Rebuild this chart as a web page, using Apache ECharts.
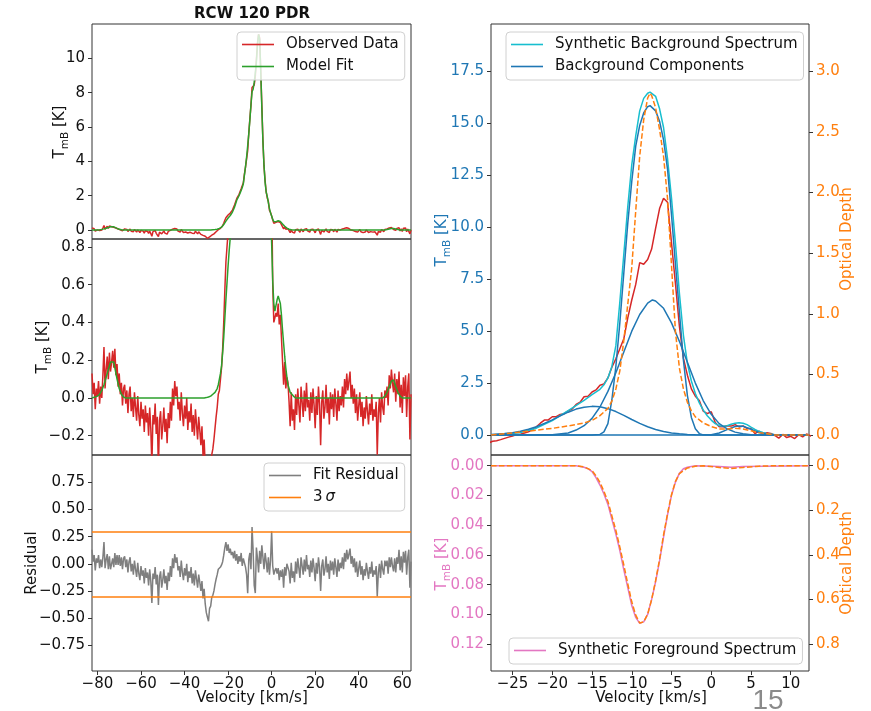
<!DOCTYPE html>
<html>
<head>
<meta charset="utf-8">
<script src="https://cdn.jsdelivr.net/npm/echarts@6/dist/echarts.min.js"></script>
<style>
html, body { margin: 0; padding: 0; background: #fff; }
#chart { width: 871px; height: 711px; }
</style>
</head>
<body>
<div id="chart"></div>
<script>
// ---- Spectral channels (km/s): first channel and channel width ----
const V0 = -82.5;
const DV = 0.5;

// Observed spectrum, T_mB [K], one value per channel
const observedT = [
  0.13, 0.02, 0.08, -0.06, 0.05, 0.01, 0.09, -0.03, 0.06, 0.0,
  0.12, 0.27, 0.05, 0.15, 0.22, 0.1, 0.24, 0.14, 0.19, 0.25,
  0.16, 0.26, 0.12, 0.18, 0.06, 0.13, 0.02, 0.08, -0.04, 0.05,
  0.07, -0.03, 0.04, -0.08, 0.02, 0.06, -0.07, 0.0, -0.1, 0.03,
  -0.05, -0.12, 0.01, -0.09, -0.15, -0.02, -0.11, -0.06, -0.18, -0.04,
  -0.13, -0.08, -0.2, -0.05, -0.16, -0.36, -0.09, -0.14, -0.03, -0.19,
  -0.1, -0.38, -0.12, -0.07, -0.22, -0.15, -0.05, -0.18, -0.11, -0.24,
  -0.08, -0.16, -0.02, -0.12, 0.05, -0.04, 0.09, 0.01, 0.06, -0.06,
  -0.02, -0.12, 0.03, -0.08, -0.15, -0.04, -0.11, 0.0, -0.17, -0.07,
  -0.13, -0.03, -0.18, -0.09, -0.2, -0.06, -0.14, -0.22, -0.1, -0.17,
  -0.25, -0.15, -0.31, -0.22, -0.36, -0.44, -0.48, -0.52, -0.4, -0.38,
  -0.3, -0.27, -0.22, -0.16, -0.1, -0.05, 0.02, 0.04, 0.1, 0.16,
  0.26, 0.4, 0.57, 0.72, 0.73, 0.88, 0.88, 0.99, 1.03, 1.16,
  1.25, 1.47, 1.58, 1.84, 1.87, 2.07, 2.17, 2.4, 2.46, 2.75,
  3.26, 3.67, 4.15, 4.63, 5.64, 6.5, 7.25, 8.3, 8.22, 8.45,
  8.95, 9.95, 10.9, 11.4, 11.2, 9.25, 7.27, 5.21, 3.7, 2.88,
  2.22, 1.87, 1.66, 1.15, 1.03, 1.12, 0.6, 0.4, 0.4, 0.45,
  0.43, 0.5, 0.39, 0.44, 0.32, 0.31, 0.07, 0.19, 0.05, 0.11,
  0.08, -0.02, -0.15, 0.03, -0.12, -0.06, -0.17, 0.02, -0.09, 0.05,
  -0.04, -0.13, 0.06, -0.02, -0.1, 0.04, -0.07, 0.08, -0.05, -0.01,
  -0.12, 0.03, -0.08, 0.05, -0.04, -0.16, 0.01, -0.09, 0.06, -0.03,
  -0.25, -0.02, 0.04, -0.11, -0.05, 0.07, -0.08, 0.0, -0.14, 0.03,
  -0.06, 0.02, -0.1, 0.05, -0.03, -0.12, 0.04, -0.07, 0.01, -0.04,
  0.06, -0.05, 0.1, 0.02, 0.13, 0.04, 0.09, 0.14, 0.0, 0.07,
  -0.03, 0.05, -0.08, 0.02, -0.12, -0.04, 0.03, -0.1, -0.02, -0.15,
  -0.05, -0.11, 0.01, -0.07, -0.14, -0.03, -0.09, 0.02, -0.12, -0.06,
  -0.1, -0.02, -0.3, -0.08, 0.0, -0.13, 0.03, -0.05, -0.09, 0.04,
  0.0, 0.06, -0.04, 0.12, 0.05, 0.15, 0.08, 0.03, 0.13, -0.02,
  0.1, 0.02, 0.14, -0.05, 0.07, -0.08, 0.11, 0.01, 0.12, -0.1,
  0.06, 0.13, -0.22, 0.02
];

// Fit residual, one value per channel
const residualT = [
  0.13, 0.02, 0.08, -0.06, 0.05, 0.01, 0.08, -0.04, 0.04, -0.03,
  0.06, 0.2, -0.04, 0.04, 0.09, -0.05, 0.07, -0.05, 0.0, 0.05,
  -0.03, 0.1, -0.01, 0.08, -0.01, 0.08, -0.02, 0.06, -0.05, 0.05,
  0.07, -0.03, 0.04, -0.08, 0.02, 0.06, -0.07, 0.0, -0.1, 0.03,
  -0.05, -0.12, 0.01, -0.09, -0.15, -0.02, -0.11, -0.06, -0.18, -0.04,
  -0.13, -0.08, -0.2, -0.05, -0.16, -0.36, -0.09, -0.14, -0.03, -0.19,
  -0.1, -0.38, -0.12, -0.07, -0.22, -0.15, -0.05, -0.18, -0.11, -0.24,
  -0.08, -0.16, -0.02, -0.12, 0.05, -0.04, 0.09, 0.01, 0.06, -0.06,
  -0.02, -0.12, 0.03, -0.08, -0.15, -0.04, -0.11, 0.0, -0.17, -0.07,
  -0.13, -0.03, -0.18, -0.09, -0.2, -0.06, -0.14, -0.22, -0.1, -0.17,
  -0.25, -0.16, -0.32, -0.23, -0.37, -0.45, -0.49, -0.53, -0.41, -0.39,
  -0.31, -0.29, -0.25, -0.19, -0.14, -0.1, -0.05, -0.06, -0.03, -0.01,
  0.02, 0.08, 0.15, 0.2, 0.12, 0.18, 0.1, 0.14, 0.08, 0.11,
  0.05, 0.12, 0.03, 0.09, 0.0, 0.07, 0.02, 0.1, -0.02, 0.05,
  0.06, -0.03, -0.1, -0.27, 0.04, 0.1, -0.05, 0.34, 0.12, -0.2,
  -0.27, 0.15, 0.05, -0.08, 0.12, 0.0, 0.17, 0.06, -0.05, 0.1,
  0.02, -0.08, 0.06, -0.1, 0.03, 0.3, -0.02, -0.1, -0.06, -0.04,
  -0.09, -0.04, -0.15, -0.06, -0.12, -0.05, -0.22, -0.03, -0.11, 0.0,
  0.01, -0.07, -0.18, 0.01, -0.13, -0.07, -0.17, 0.02, -0.09, 0.05,
  -0.04, -0.13, 0.06, -0.02, -0.1, 0.04, -0.07, 0.08, -0.05, -0.01,
  -0.12, 0.03, -0.08, 0.05, -0.04, -0.16, 0.01, -0.09, 0.06, -0.03,
  -0.25, -0.02, 0.04, -0.11, -0.05, 0.07, -0.08, 0.0, -0.14, 0.03,
  -0.06, 0.02, -0.1, 0.05, -0.03, -0.12, 0.04, -0.07, 0.01, -0.04,
  0.06, -0.05, 0.1, 0.02, 0.13, 0.04, 0.09, 0.14, 0.0, 0.07,
  -0.03, 0.05, -0.08, 0.02, -0.12, -0.04, 0.03, -0.1, -0.02, -0.15,
  -0.05, -0.11, 0.01, -0.07, -0.14, -0.03, -0.09, 0.02, -0.12, -0.06,
  -0.1, -0.02, -0.3, -0.08, 0.0, -0.13, 0.03, -0.05, -0.1, 0.03,
  -0.02, 0.03, -0.09, 0.06, -0.03, 0.06, -0.02, -0.07, 0.05, -0.08,
  0.06, 0.0, 0.13, -0.06, 0.07, -0.08, 0.11, 0.01, 0.12, -0.1,
  0.06, 0.13, -0.22, 0.02
];

// Model fit (velocity, T_mB)
const modelVel = [
  -82.5, -80, -79, -78, -77, -76, -75, -74, -73.2, -72.5,
  -72, -71, -70, -69, -68, -67, -31, -30, -29, -28,
  -27, -26, -25, -24.5, -24, -23.5, -23, -22.5, -22, -21.5,
  -21, -20.5, -20, -19.5, -19, -18.5, -18, -17.5, -17, -16.5,
  -16, -15.5, -15, -14.5, -14, -13.5, -13, -12.5, -12, -11.5,
  -11, -10.5, -10, -9.5, -9, -8.5, -8, -7.5, -7, -6.5,
  -6, -5.5, -5, -4.5, -4, -3.5, -3, -2.5, -2, -1.5,
  -1, -0.5, 0, 0.5, 1, 1.5, 2, 2.5, 3, 3.5,
  4, 4.5, 5, 5.5, 6, 6.5, 7, 7.5, 8, 8.5,
  9, 10, 11, 51, 52, 53, 54, 55, 55.5, 56,
  57, 58, 59, 60, 64
];
const modelT = [
  0.0, 0.01, 0.02, 0.04, 0.07, 0.11, 0.15, 0.19, 0.2, 0.19,
  0.16, 0.1, 0.05, 0.02, 0.005, 0.0, 0.0, 0.002, 0.005, 0.01,
  0.02, 0.03, 0.05, 0.07, 0.1, 0.13, 0.17, 0.24, 0.32, 0.42,
  0.52, 0.61, 0.7, 0.78, 0.85, 0.95, 1.05, 1.2, 1.35, 1.55,
  1.75, 1.87, 2.0, 2.15, 2.3, 2.48, 2.7, 3.2, 3.7, 4.25,
  4.9, 5.6, 6.4, 7.3, 8.05, 8.2, 8.6, 9.15, 9.8, 10.8,
  11.4, 11.1, 9.25, 7.1, 5.15, 3.75, 2.78, 2.2, 1.95, 1.6,
  1.25, 1.0, 0.82, 0.62, 0.5, 0.46, 0.49, 0.52, 0.54, 0.54,
  0.5, 0.44, 0.36, 0.29, 0.22, 0.16, 0.11, 0.07, 0.05, 0.03,
  0.02, 0.01, 0.0, 0.0, 0.01, 0.03, 0.06, 0.09, 0.1, 0.095,
  0.06, 0.03, 0.01, 0.0, 0.0
];

// 3-sigma noise level of the residual
const SIGMA3 = 0.3;

// Synthetic background spectrum
const synthVel = [
  -27.7, -26, -24, -22, -20, -18, -16, -15, -14, -13.5,
  -13, -12.5, -12, -11.5, -11, -10.5, -10, -9.5, -9, -8.5,
  -8, -7.7, -7.5, -7, -6.5, -6, -5.5, -5, -4.5, -4,
  -3.5, -3, -2.5, -2, -1.5, -1, -0.5, 0, 0.5, 1,
  1.5, 2, 2.5, 3, 3.5, 4, 4.5, 5, 5.5, 6,
  6.5, 7, 8, 9, 12.3
];
const synthT = [
  0.0, 0.03, 0.12, 0.33, 0.7, 1.18, 1.67, 1.95, 2.2, 2.42,
  2.75, 3.3, 4.3, 6.4, 8.7, 11.0, 13.0, 14.4, 15.6, 16.2,
  16.45, 16.5, 16.45, 16.3, 15.7, 14.8, 13.3, 11.4, 9.2, 6.8,
  4.8, 3.45, 2.6, 2.0, 1.55, 1.2, 0.93, 0.72, 0.55, 0.45,
  0.42, 0.45, 0.52, 0.57, 0.59, 0.57, 0.5, 0.38, 0.27, 0.18,
  0.12, 0.07, 0.02, 0.0, 0.0
];

// Background components
const compAVel = [-27.7, -15, -14, -13.5, -13, -12.5, -12, -11.5, -11, -10.5, -10, -9.5, -9, -8.5, -8, -7.7, -7.5, -7, -6.5, -6, -5.5, -5, -4.5, -4, -3.5, -3, -2.5, -2, -1.5, -1, 0, 12.3];
const compAT = [0, 0, 0.03, 0.15, 0.55, 1.7, 3.3, 5.4, 7.8, 10.2, 12.2, 13.9, 14.9, 15.5, 15.8, 15.85, 15.82, 15.6, 15.1, 14.2, 12.8, 10.6, 8.2, 5.9, 3.6, 1.9, 0.85, 0.3, 0.07, 0.01, 0, 0];
const compBVel = [-27.7, -22, -20, -18, -17, -16, -15, -14, -13, -12, -11, -10, -9, -8, -7.4, -7, -6, -5, -4, -3, -2, -1, 0, 1, 2, 3, 4, 5, 6, 12.3];
const compBT = [0, 0.01, 0.02, 0.1, 0.24, 0.45, 0.8, 1.35, 2.1, 3.0, 4.0, 5.0, 5.8, 6.35, 6.5, 6.45, 6.1, 5.4, 4.5, 3.5, 2.5, 1.65, 1.0, 0.55, 0.3, 0.14, 0.06, 0.02, 0, 0];
const compCVel = [-27.7, -26, -25, -24, -23, -22, -21, -20, -19, -18, -17, -16, -15, -14, -13, -12, -11, -10, -9, -8, -7, -6, -5, -4, -3, -2, 0, 12.3];
const compCT = [0.03, 0.07, 0.11, 0.18, 0.28, 0.4, 0.56, 0.73, 0.92, 1.1, 1.25, 1.34, 1.38, 1.36, 1.27, 1.13, 0.95, 0.75, 0.56, 0.4, 0.27, 0.17, 0.1, 0.06, 0.03, 0.015, 0, 0];
const compDVel = [-27.7, -1, 0, 1, 2, 3, 3.5, 4, 5, 6, 7, 8, 9, 12.3];
const compDT = [0, 0, 0.02, 0.1, 0.26, 0.41, 0.44, 0.42, 0.28, 0.12, 0.04, 0.01, 0, 0];

// Optical depth of the background emission
const tauBgVel = [
  -27.7, -26, -24, -22, -20, -18, -16, -15, -14, -13,
  -12.5, -12, -11.5, -11, -10.5, -10, -9.5, -9, -8.5, -8,
  -7.7, -7.5, -7, -6.5, -6, -5.5, -5, -4.5, -4, -3.5,
  -3, -2.5, -2, -1, 0, 1, 2, 3, 4, 5,
  6, 7, 8, 12.3
];
const tauBg = [
  0.0, 0.01, 0.025, 0.04, 0.055, 0.075, 0.1, 0.12, 0.16, 0.22,
  0.28, 0.38, 0.53, 0.78, 1.08, 1.38, 1.85, 2.3, 2.6, 2.78,
  2.82, 2.8, 2.7, 2.52, 2.3, 1.95, 1.4, 0.85, 0.55, 0.38,
  0.27, 0.2, 0.15, 0.1, 0.07, 0.05, 0.05, 0.055, 0.05, 0.035,
  0.02, 0.01, 0.0, 0.0
];

// Synthetic foreground spectrum and its optical depth
const fgVel = [
  -27.7, -17, -16.5, -16, -15.5, -15, -14.5, -14, -13.5, -13,
  -12.5, -12, -11.5, -11, -10.5, -10, -9.5, -9, -8.5, -8,
  -7.5, -7, -6.5, -6, -5.5, -5, -4.5, -4, -3.5, -3,
  -2, 1, 2.5, 4, 12.3
];
const fgT = [
  0, 0, 0.0005, 0.001, 0.002, 0.004, 0.008, 0.013, 0.019, 0.026,
  0.036, 0.046, 0.057, 0.07, 0.082, 0.094, 0.102, 0.106, 0.105, 0.1,
  0.09, 0.078, 0.064, 0.048, 0.033, 0.02, 0.011, 0.005, 0.002, 0.001,
  0.0, 0.0005, 0.001, 0.0005, 0
];
const tauFgVel = [
  -27.7, -17, -16, -15, -14.5, -14, -13.5, -13, -12.5, -12,
  -11.5, -11, -10.5, -10, -9.5, -9, -8.5, -8, -7.5, -7,
  -6.5, -6, -5.5, -5, -4.5, -4, -3, -2, -1, 1,
  2.5, 4, 6, 8, 12.3
];
const tauFg = [
  0, 0, 0.005, 0.022, 0.045, 0.075, 0.115, 0.16, 0.225, 0.29,
  0.365, 0.445, 0.53, 0.61, 0.67, 0.705, 0.7, 0.665, 0.6, 0.515,
  0.42, 0.31, 0.215, 0.13, 0.07, 0.035, 0.01, 0.002, 0, 0.008,
  0.012, 0.008, 0.002, 0, 0
];

// Tick positions
const ticksVelWide = [-80, -60, -40, -20, 0, 20, 40, 60];
const ticksVelNarrow = [-25, -20, -15, -10, -5, 0, 5, 10];
const ticksTop = [0, 2, 4, 6, 8, 10];
const ticksMid = [-0.2, 0, 0.2, 0.4, 0.6, 0.8];
const ticksResid = [-0.75, -0.5, -0.25, 0, 0.25, 0.5, 0.75];
const ticksBgT = [0, 2.5, 5, 7.5, 10, 12.5, 15, 17.5];
const ticksBgTau = [0, 0.5, 1, 1.5, 2, 2.5, 3];
const ticksFgT = [0, 0.02, 0.04, 0.06, 0.08, 0.1, 0.12];
const ticksFgTau = [0, 0.2, 0.4, 0.6, 0.8];

// ---- Styling ----
const FONT = 'DejaVu Sans';
const INK = '#111';
const C = {
  red: '#d62728', green: '#2ca02c', gray: '#7f7f7f', orange: '#ff7f0e',
  cyan: '#17becf', blue: '#1f77b4', pink: '#e377c2'
};
const MINUS = '\u2212';
function fmt(v, d) {
  const s = Math.abs(v).toFixed(d);
  return (v < -1e-12 ? MINUS : '') + s;
}
const channelVel = observedT.map((_, i) => V0 + i * DV);

const GRIDS = [
  { left: 92, top: 24, width: 319, height: 215 },
  { left: 92, top: 239, width: 319, height: 216 },
  { left: 92, top: 455, width: 319, height: 216 },
  { left: 491, top: 24, width: 318, height: 431 },
  { left: 491, top: 455, width: 318, height: 216 }
];

function xAxis(gridIndex, min, max, ticks) {
  const labelled = !!ticks;
  return {
    type: 'value', gridIndex, min, max, position: 'bottom',
    axisLine: { show: false, onZero: false },
    splitLine: { show: false },
    axisTick: labelled ? { show: true, customValues: ticks, length: 4, lineStyle: { color: '#333' } } : { show: false },
    axisLabel: labelled ? {
      show: true, customValues: ticks, margin: 6,
      fontSize: 15, fontFamily: FONT, color: INK,
      formatter: v => fmt(v, 0)
    } : { show: false }
  };
}
function yAxis(gridIndex, position, min, max, ticks, dec, color, inverse) {
  return {
    type: 'value', gridIndex, position, min, max, inverse: !!inverse,
    axisLine: { show: false, onZero: false },
    splitLine: { show: false },
    axisTick: { show: true, customValues: ticks, length: 4, lineStyle: { color: '#333' } },
    axisLabel: {
      show: true, customValues: ticks, margin: 7,
      fontSize: 15, fontFamily: FONT, color: color || INK,
      formatter: v => fmt(v, dec)
    }
  };
}
function line(name, xs, ys, xi, yi, color, dashed) {
  return {
    type: 'line', name, xAxisIndex: xi, yAxisIndex: yi,
    data: xs.map((x, i) => [x, ys[i]]),
    showSymbol: false, symbol: 'none', smooth: false, clip: true,
    silent: true, animation: false,
    emphasis: { disabled: true },
    itemStyle: { color },
    lineStyle: { color, width: 1.5, type: dashed ? [5.5, 2.4] : 'solid' }
  };
}
function legend(names, left, top, extra) {
  return Object.assign({
    data: names, left, top, orient: 'vertical',
    icon: 'rect', itemWidth: 32, itemHeight: 1.6, itemGap: 5,
    padding: [4, 6, 5, 5],
    borderColor: '#d0d0d0', borderWidth: 1, borderRadius: 4,
    backgroundColor: 'rgba(255,255,255,0.8)',
    selectedMode: false,
    textStyle: { fontSize: 15, fontFamily: FONT, color: INK, lineHeight: 17, padding: [0, 0, 0, 7] }
  }, extra || {});
}
function tmbLabel(x, y, color) {
  return {
    type: 'text', x, y, rotation: Math.PI / 2, silent: true,
    style: {
      text: '{m|T}{s|mB}{m| [K]}',
      align: 'center', verticalAlign: 'middle',
      textAlign: 'center', textVerticalAlign: 'middle',
      rich: {
        m: { fontSize: 15, fontFamily: FONT, fill: color, color: color, lineHeight: 22 },
        s: { fontSize: 10.5, fontFamily: FONT, fill: color, color: color, verticalAlign: 'bottom' }
      }
    }
  };
}
function plainLabel(text, x, y, color, rotate, font) {
  return {
    type: 'text', x, y, rotation: rotate ? Math.PI / 2 : 0, silent: true,
    style: {
      text, fill: color, font: font || ('15px ' + FONT),
      align: 'center', verticalAlign: 'middle',
      textAlign: 'center', textVerticalAlign: 'middle'
    }
  };
}

const option = {
  animation: false,
  backgroundColor: '#fff',
  grid: GRIDS.map(g => Object.assign({ show: true, borderColor: '#333', borderWidth: 1, backgroundColor: 'transparent', containLabel: false }, g)),
  xAxis: [
    xAxis(0, -82.5, 64),
    xAxis(1, -82.5, 64),
    xAxis(2, -82.5, 64, ticksVelWide),
    xAxis(3, -27.71, 12.3),
    xAxis(4, -27.71, 12.3, ticksVelNarrow)
  ],
  yAxis: [
    yAxis(0, 'left', -0.52, 12.0, ticksTop, 0),
    yAxis(1, 'left', -0.302, 0.842, ticksMid, 1),
    yAxis(2, 'left', -0.988, 1.003, ticksResid, 2),
    yAxis(3, 'left', -0.96, 19.78, ticksBgT, 1, C.blue),
    yAxis(3, 'right', -0.1646, 3.3905, ticksBgTau, 1, C.orange),
    yAxis(4, 'left', -0.0072, 0.138, ticksFgT, 2, C.pink, true),
    yAxis(4, 'right', -0.048, 0.92, ticksFgTau, 1, C.orange, true)
  ],
  legend: [
    legend(['Observed Data', 'Model Fit'], 237, 32),
    legend(['Synthetic Background Spectrum', 'Background Components'], 506, 32),
    legend(['Fit Residual', '3σ'], 264, 463, {
      formatter: n => n === '3σ' ? '3\u2009{it|σ}' : n,
      textStyle: {
        fontSize: 15, fontFamily: FONT, color: INK, lineHeight: 17, padding: [0, 0, 0, 7],
        rich: { it: { fontSize: 15, fontFamily: FONT, fontStyle: 'italic', color: INK, lineHeight: 17 } }
      }
    }),
    legend(['Synthetic Foreground Spectrum'], 509, 638)
  ],
  series: [
    // Full-scale spectrum with model
    line('Observed Data', channelVel, observedT, 0, 0, C.red),
    line('Model Fit', modelVel, modelT, 0, 0, C.green),
    // Zoom on the baseline
    line('Observed Data', channelVel, observedT, 1, 1, C.red),
    line('Model Fit', modelVel, modelT, 1, 1, C.green),
    // Residual and 3-sigma levels
    line('Fit Residual', channelVel, residualT, 2, 2, C.gray),
    {
      type: 'line', name: '3σ', xAxisIndex: 2, yAxisIndex: 2, data: [],
      itemStyle: { color: C.orange }, lineStyle: { color: C.orange, width: 1.5 },
      animation: false, silent: true,
      markLine: {
        silent: true, animation: false, symbol: ['none', 'none'],
        label: { show: false },
        lineStyle: { color: C.orange, width: 1.5, type: 'solid' },
        emphasis: { disabled: true },
        data: [{ yAxis: SIGMA3 }, { yAxis: -SIGMA3 }]
      }
    },
    // Background decomposition
    line('Observed Data', channelVel, observedT, 3, 3, C.red),
    line('Synthetic Background Spectrum', synthVel, synthT, 3, 3, C.cyan),
    line('Background Components', compAVel, compAT, 3, 3, C.blue),
    line('Background Components', compBVel, compBT, 3, 3, C.blue),
    line('Background Components', compCVel, compCT, 3, 3, C.blue),
    line('Background Components', compDVel, compDT, 3, 3, C.blue),
    line('Background Optical Depth', tauBgVel, tauBg, 3, 4, C.orange, true),
    // Foreground absorption
    line('Synthetic Foreground Spectrum', fgVel, fgT, 4, 5, C.pink),
    line('Foreground Optical Depth', tauFgVel, tauFg, 4, 6, C.orange, true)
  ],
  graphic: [
    plainLabel('RCW 120 PDR', 252, 14, INK, false, 'bold 15px ' + FONT),
    tmbLabel(60, 132, INK),
    tmbLabel(43, 347, INK),
    plainLabel('Residual', 32, 563, INK, true),
    tmbLabel(442, 240, C.blue),
    plainLabel('Optical Depth', 847, 239, C.orange, true),
    tmbLabel(442, 564, C.pink),
    plainLabel('Optical Depth', 847, 563, C.orange, true),
    plainLabel('Velocity [km/s]', 252, 698, INK, false),
    plainLabel('Velocity [km/s]', 651, 698, INK, false),
    plainLabel('15', 768, 701, '#8a8a8a', false, '28px Liberation Sans')
  ]
};

const chart = echarts.init(document.getElementById('chart'), null, { renderer: 'canvas' });
chart.setOption(option);
</script>
</body>
</html>
